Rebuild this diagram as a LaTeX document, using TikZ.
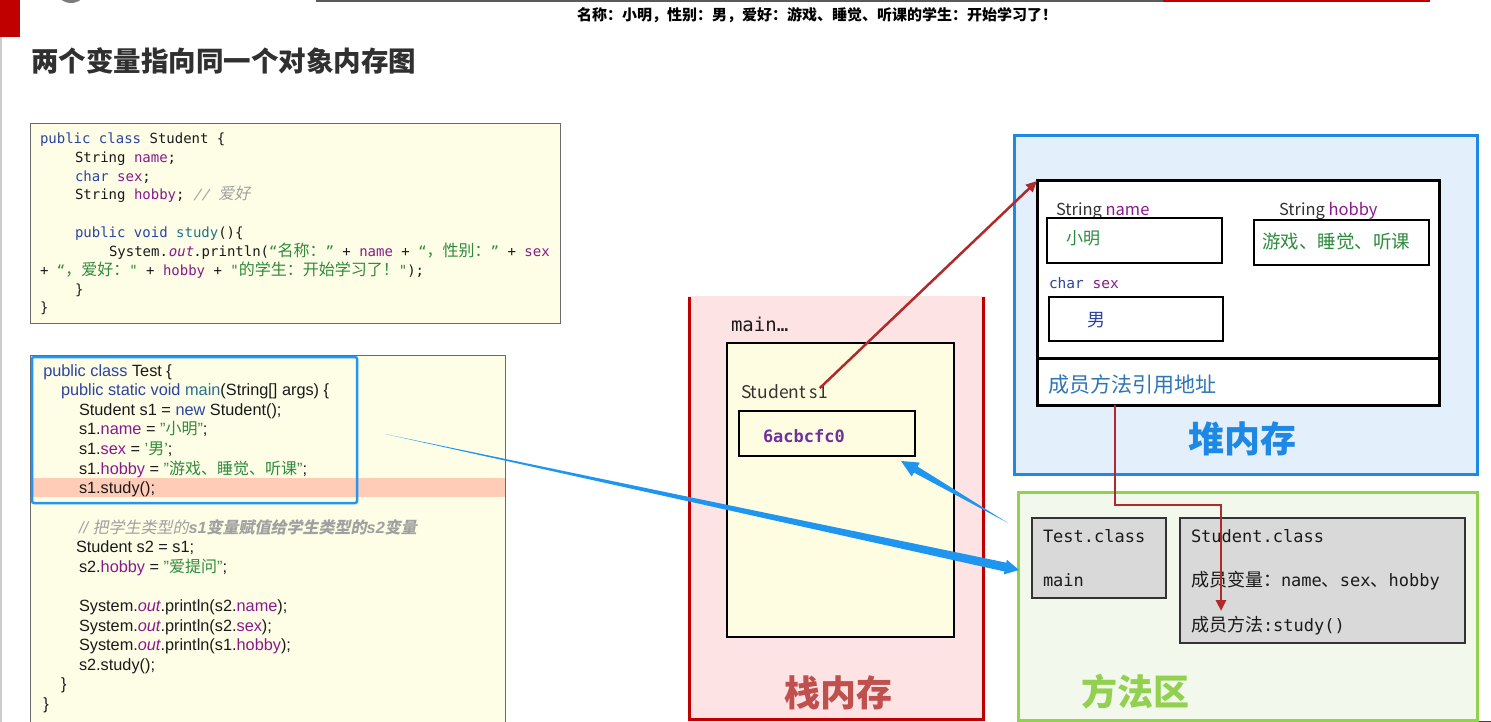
\documentclass[tikz,border=0pt]{standalone}
\usepackage{fontspec}
\usetikzlibrary{calc,arrows.meta}
\setmainfont{Liberation Sans}
\newfontfamily\cjk{Noto Sans CJK SC}
\newfontfamily\cjksl[FakeSlant=0.2]{Noto Sans CJK SC}
\newfontfamily\mono{DejaVu Sans Mono}
\newfontfamily\monoit[FakeSlant=0.2]{DejaVu Sans Mono}
\definecolor{kw}{HTML}{2B45A0}
\definecolor{fld}{HTML}{8A1A8A}
\definecolor{mth}{HTML}{22718E}
\definecolor{str}{HTML}{2E8B3E}
\definecolor{cmtgray}{HTML}{A0A0A0}
\definecolor{codeblack}{HTML}{1A1A1A}
\definecolor{codebg}{HTML}{FEFDE6}
\definecolor{boxgray}{HTML}{6A6A6A}
\definecolor{peach}{HTML}{FFCCB8}
\definecolor{hlblue}{HTML}{2196F3}
\definecolor{stackpink}{HTML}{FDE3E3}
\definecolor{stackred}{HTML}{C00000}
\definecolor{innery}{HTML}{FFFDE1}
\definecolor{addr}{HTML}{7030A0}
\definecolor{stacklbl}{HTML}{C0504D}
\definecolor{txtgray}{HTML}{333333}
\definecolor{heapfill}{HTML}{E3F0FC}
\definecolor{heapblue}{HTML}{1E88E5}
\definecolor{membl}{HTML}{2E75B6}
\definecolor{methfill}{HTML}{F2F8EC}
\definecolor{methgreen}{HTML}{92D050}
\definecolor{graybox}{HTML}{D9D9D9}
\definecolor{darkline}{HTML}{333333}
\definecolor{arrred}{HTML}{B02A2A}
\definecolor{arrblue}{HTML}{1E96F0}
\definecolor{titlegray}{HTML}{303030}
\definecolor{topgray}{HTML}{5A5A5A}
\newcommand\fs[1]{\fontsize{#1}{#1}\selectfont}
\def\zhs{16}
\newcommand\zh[1]{{\cjk\fs{\zhs}#1}}
\newcommand\ckw[1]{\textcolor{kw}{#1}}
\newcommand\cfl[1]{\textcolor{fld}{#1}}
\newcommand\cmth[1]{\textcolor{mth}{#1}}
\newcommand\cst[1]{\textcolor{str}{#1}}
\newcommand\taper[5]{%
  \path ($(#2)!#5!(#1)$) coordinate (tpb);
  \fill[arrblue] (#1) -- ($(tpb)!#3!90:(#2)$) -- ($(tpb)!#4!90:(#2)$) -- (#2)
    -- ($(tpb)!#4!-90:(#2)$) -- ($(tpb)!#3!-90:(#2)$) -- cycle;}
\begin{document}
\begin{tikzpicture}[x=1pt,y=-1pt,
  box/.style={draw, anchor=north west, inner sep=0pt, outer sep=0pt},
  code/.style={anchor=base west, inner sep=0pt, outer sep=0pt, text=codeblack},
  cA/.style={code, font=\mono\fs{14}},
  cB/.style={code, font=\fs{16.3}},
  lbl/.style={inner sep=0pt, outer sep=0pt},
  redarr/.style={draw=arrred, line width=2.5pt, -{Triangle[length=11pt,width=10pt]}}]
\useasboundingbox (0,0) rectangle (1491,722);
\fill[white] (0,0) rectangle (1491,722);
% top decorations
\fill[stackred] (0,0) rectangle (20,37);
\draw[gray!40, line width=1.5pt] (0.75,37) -- (0.75,722);
\fill[topgray!80] (71,-13) circle (16pt);
\draw[topgray, line width=2.5pt] (316,1) -- (1163,1);
\draw[stackred, line width=2.5pt] (1163,1) -- (1430,1);
\draw[arrred!80!black, line width=1.5pt] (1203,721.5) -- (1491,721.5);
\node[lbl, font=\cjk\bfseries\fs{15}] (toptxt) at (817,15) {名称：小明，性别：男，爱好：游戏、睡觉、听课的学生：开始学习了！};
\node[lbl, anchor=west, font=\cjk\bfseries\fs{27.5}, text=titlegray] (title) at (31,61) {两个变量指向同一个对象内存图};
% code box 1
\node[box, fill=codebg, draw=boxgray, line width=1pt, minimum width=530pt, minimum height=199pt] (code1) at (30,124) {};
\node[cA] (a1) at (40,144) {\ckw{public class} Student \{};
\node[cA] (a2) at (75,163) {String \cfl{name};};
\node[cA] (a3) at (75,181.5) {\ckw{char} \cfl{sex};};
\node[cA] (a4) at (75,200) {String \cfl{hobby}; {\color{cmtgray}\monoit // {\cjksl\fs{16}爱好}}};
\node[cA] (a6) at (75,237) {\ckw{public void} \cmth{study}()\{};
\node[cA] (a7) at (109,256) {System.{\monoit\color{fld}out}.println(\cst{“\zh{名称：}”} + \cfl{name} + \cst{“\zh{，性别：}”} + \cfl{sex}};
\node[cA] (a8) at (40,275) {+ \cst{“\zh{，爱好：}"} + \cfl{hobby} + \cst{"\zh{的学生：开始学习了！}"});};
\node[cA] (a9) at (75,294) {\}};
\node[cA] (a10) at (40,312.5) {\}};
% code box 2
\node[box, fill=codebg, draw=boxgray, line width=1pt, minimum width=475pt, minimum height=380pt] (code2) at (30,355) {};
\fill[peach] (31,478) rectangle (504.5,497);
\node[cB] (b0) at (43.3,376) {\ckw{public class} Test \{};
\node[cB] (b1) at (61,395.6) {\ckw{public static void} \cmth{main}(String[] args) \{};
\node[cB] (b2) at (79,415.2) {Student s1 = \ckw{new} Student();};
\node[cB] (b3) at (79,434.9) {s1.\cfl{name} = \cst{"\zh{小明}"};};
\node[cB] (b4) at (79,454.5) {s1.\cfl{sex} = \cst{'\zh{男}'};};
\node[cB] (b5) at (79,474.1) {s1.\cfl{hobby} = \cst{"\zh{游戏、睡觉、听课}"};};
\node[cB] (b6) at (79,493.7) {s1.study();};
\node[cB, text=cmtgray] (b8) at (79,533) {\itshape // {\cjksl\fs{16}把学生类型的}\bfseries s1{\cjksl\fs{16}变量赋值给学生类型的}s2{\cjksl\fs{16}变量}};
\node[cB] (b9) at (76,552.6) {Student s2 = s1;};
\node[cB] (b10) at (79,572.2) {s2.\cfl{hobby} = \cst{"\zh{爱提问}"};};
\node[cB] (b12) at (79,611.4) {System.{\itshape\color{fld}out}.println(s2.\cfl{name});};
\node[cB] (b13) at (79,631) {System.{\itshape\color{fld}out}.println(s2.\cfl{sex});};
\node[cB] (b14) at (79,650.7) {System.{\itshape\color{fld}out}.println(s1.\cfl{hobby});};
\node[cB] (b15) at (79,670.3) {s2.study();};
\node[cB] (b16) at (61,689.9) {\}};
\node[cB] (b17) at (43.3,709.5) {\}};
\node[box, draw=hlblue, line width=2.5pt, rounded corners=2pt, minimum width=325pt, minimum height=146pt] (hl) at (32,357) {};
% stack
\node[box, draw=none, fill=stackpink, minimum width=298pt, minimum height=426pt] (stack) at (688,296) {};
\draw[stackred, line width=3pt] (689.5,297) -- (689.5,719.5) -- (983.5,719.5) -- (983.5,297);
\node[lbl, anchor=base west, font=\mono\fs{19}, text=codeblack] (mainlbl) at (731,331) {main…};
\node[box, fill=innery, draw=black, line width=1.5pt, minimum width=227pt, minimum height=294pt] (frame) at (727,343) {};
\node[lbl, anchor=base west, font=\cjk\fs{17.5}, text=txtgray] (s1lbl) at (741,398) {Student s1};
\node[box, fill=innery, draw=black, line width=2.5pt, minimum width=176pt, minimum height=45pt] (s1box) at (739,411) {};
\node[lbl, anchor=base west, font=\mono\bfseries\fs{17}, text=addr] (addr) at (763,442) {6acbcfc0};
\node[lbl, font=\cjk\bfseries\fs{36}, text=stacklbl] (stackname) at (838,693) {栈内存};
% heap
\node[box, fill=heapfill, draw=heapblue, line width=3pt, minimum width=463pt, minimum height=338pt] (heap) at (1014,136) {};
\node[box, fill=white, draw=black, line width=3pt, minimum width=402pt, minimum height=224pt] (obj) at (1037,181) {};
\draw[black, line width=3pt] (obj.west |- 0,358) -- (obj.east |- 0,358);
\node[lbl, anchor=base west, font=\cjk\fs{16.5}, text=txtgray] (nmlbl) at (1056,215) {String \textcolor{fld}{name}};
\node[box, draw=black, line width=2.5pt, minimum width=175pt, minimum height=45pt] (namebox) at (1047,218) {};
\node[lbl, anchor=west, font=\cjk\fs{17}, text=str] (nmval) at (1066,238) {小明};
\node[lbl, anchor=base west, font=\cjk\fs{16.5}, text=txtgray] (hblbl) at (1279,215) {String \textcolor{fld}{hobby}};
\node[box, draw=black, line width=2.5pt, minimum width=175pt, minimum height=45pt] (hobbybox) at (1254,220) {};
\node[lbl, anchor=west, font=\cjk\fs{18.5}, text=str] (hbval) at (1262,242) {游戏、睡觉、听课};
\node[lbl, anchor=base west, font=\mono\fs{14.5}, text=kw] (sxlbl) at (1049,288) {char \textcolor{fld}{sex}};
\node[box, draw=black, line width=2.5pt, minimum width=174pt, minimum height=44pt] (sexbox) at (1049,297) {};
\node[lbl, anchor=west, font=\cjk\fs{18}, text=kw] (sxval) at (1087,320) {男};
\node[lbl, anchor=west, font=\cjk\fs{21}, text=membl] (memref) at (1048,385) {成员方法引用地址};
\node[lbl, font=\cjk\bfseries\fs{36}, text=heapblue] (heapname) at (1242,439) {堆内存};
% method area
\node[box, fill=methfill, draw=methgreen, line width=3pt, minimum width=459pt, minimum height=228pt] (method) at (1018,492) {};
\node[box, fill=graybox, draw=darkline, line width=1.5pt, minimum width=134pt, minimum height=80pt] (testcls) at (1032,518) {};
\node[box, fill=graybox, draw=darkline, line width=1.5pt, minimum width=285pt, minimum height=125pt] (stucls) at (1180,518) {};
\node[lbl, anchor=base west, font=\mono\fs{17}, text=codeblack] (t1) at (1043,542) {Test.class};
\node[lbl, anchor=base west, font=\mono\fs{17}, text=codeblack] (t2) at (1043,586) {main};
\node[lbl, anchor=base west, font=\mono\fs{17}, text=codeblack] (u1) at (1191,542) {Student.class};
\node[lbl, anchor=base west, font=\mono\fs{17}, text=codeblack] (u2) at (1191,586) {{\cjk\fs{18}成员变量：}name{\cjk\fs{18}、}sex{\cjk\fs{18}、}hobby};
\node[lbl, anchor=base west, font=\mono\fs{17}, text=codeblack] (u3) at (1191,631) {{\cjk\fs{18}成员方法}:study()};
\node[lbl, font=\cjk\bfseries\fs{36}, text=methgreen] (methname) at (1135,692) {方法区};
% arrows
\coordinate (ra1s) at ($(s1lbl.north east)+(-8,4)$);
\draw[redarr] (ra1s) -- (obj.north west);
\coordinate (ra2s) at ($(obj.south west)+(78,0)$);
\coordinate (ra2m) at (1221,505);
\coordinate (ra2e) at (1221,611);
\draw[redarr] (ra2s) |- (ra2m) -- (ra2e);
\coordinate (ba1t) at (385,434);
\coordinate (ba1h) at (1019,570);
\taper{ba1t}{ba1h}{4.5pt}{7.5pt}{14pt}
\coordinate (ba2t) at (1008,523);
\coordinate (ba2h) at ($(s1box.south east)+(-14,5)$);
\taper{ba2t}{ba2h}{3.5pt}{8pt}{17pt}
\end{tikzpicture}
\end{document}
